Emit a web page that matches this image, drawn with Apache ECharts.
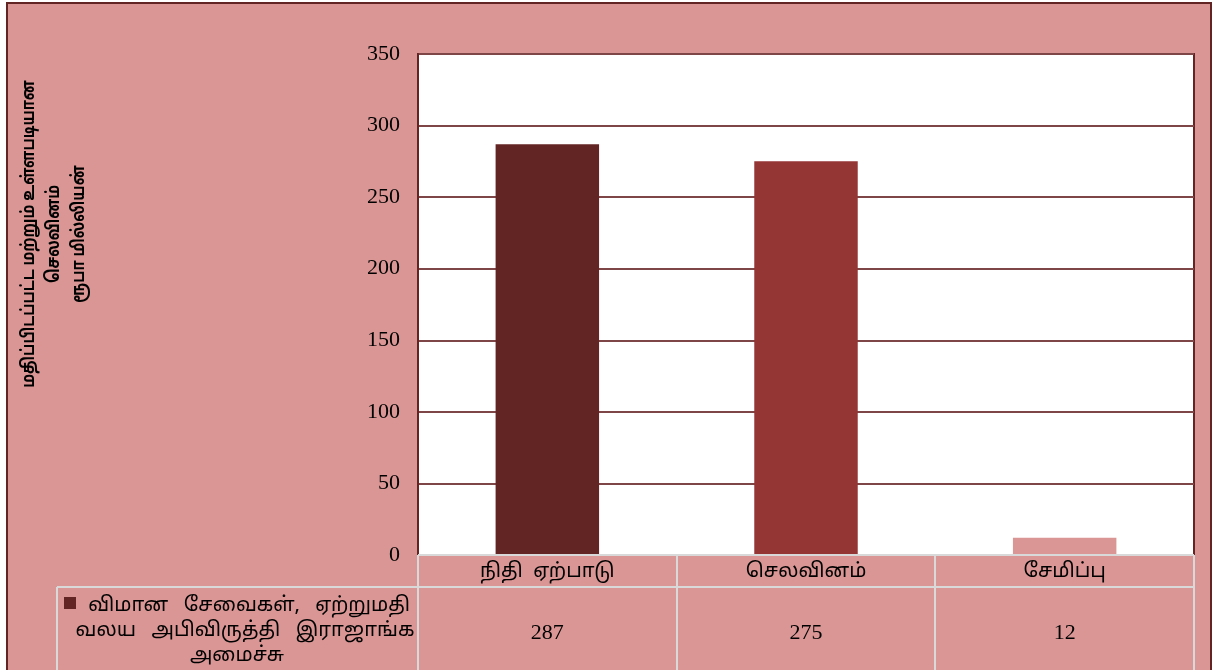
<!DOCTYPE html>
<html>
<head>
<meta charset="utf-8">
<script src="https://cdn.jsdelivr.net/npm/echarts@6/dist/echarts.min.js"></script>
<style>
  html, body { margin: 0; padding: 0; background: #fff; }
  #chart { width: 1214px; height: 670px; }
</style>
</head>
<body>
<div id="chart"></div>
<script>
// 数据
const categories = ['நிதி  ஏற்பாடு', 'செலவினம்', 'சேமிப்பு']
const values = [287, 275, 12]
const barColors = ['#632523', '#943634', '#D99694']
const seriesName = 'விமான சேவைகள், ஏற்றுமதி வலய அபிவிருத்தி இராஜாங்க அமைச்சு'
const legendLines = ['விமான   சேவைகள்,   ஏற்றுமதி', 'வலய   அபிவிருத்தி   இராஜாங்க', 'அமைச்சு']
const yTitleLines = ['மதிப்பிடப்பட்ட மற்றும் உள்ளபடியான', 'செலவினம்', 'ரூபா மில்லியன்']
const yTicks = { min: 0, max: 350, interval: 50 }

// 布局
const gridLeft = 418
const gridRight = 1194
const gridTop = 54
const gridBottom = 555
const rowLine = 587
const tableLeft = 57
const tableColor = '#D9D9D9'
const tamilFont = '"Noto Sans Tamil", "Noto Sans", sans-serif'
const serifFont = '"Liberation Serif", "DejaVu Serif", serif'

const chart = echarts.init(document.getElementById('chart'))

// 数据表格线
function tableLines() {
  const lines = []
  const line = (x1, y1, x2, y2) => lines.push({
    type: 'line', z: 50, silent: true,
    shape: { x1, y1, x2, y2 },
    style: { stroke: tableColor, lineWidth: 2 }
  })
  line(gridLeft, gridBottom, gridRight, gridBottom)
  line(tableLeft, rowLine, gridRight, rowLine)
  line(tableLeft, rowLine, tableLeft, 680)
  const step = (gridRight - gridLeft) / categories.length
  for (let i = 0; i <= categories.length; i++) {
    const x = Math.round(gridLeft + step * i)
    line(x, gridBottom, x, 680)
  }
  return lines
}

// 图例文字（三行）
const legendPos = [[249, 607], [245, 632], [237, 657]]
const legendTexts = legendLines.map((t, i) => ({
  type: 'text', z: 50, silent: true,
  x: legendPos[i][0], y: legendPos[i][1],
  style: {
    text: t,
    align: 'center',
    verticalAlign: 'middle',
    font: '20px ' + tamilFont,
    fill: '#000'
  }
}))

chart.setOption({
  backgroundColor: '#fff',
  animation: false,
  grid: {
    left: gridLeft,
    right: 1214 - gridRight,
    top: gridTop,
    bottom: 670 - gridBottom,
    show: true,
    backgroundColor: '#fff',
    borderColor: '#632523',
    borderWidth: 2
  },
  xAxis: [
    {
      type: 'category',
      data: categories,
      axisLine: { show: false },
      axisTick: { show: false },
      axisLabel: {
        margin: 8,
        color: '#000',
        fontSize: 20,
        fontFamily: tamilFont
      }
    },
    {
      type: 'category',
      position: 'bottom',
      data: values.map(v => String(v)),
      axisLine: { show: false },
      axisTick: { show: false },
      axisLabel: {
        margin: 67,
        color: '#000',
        fontSize: 22,
        fontFamily: serifFont
      }
    }
  ],
  yAxis: {
    type: 'value',
    min: yTicks.min,
    max: yTicks.max,
    interval: yTicks.interval,
    axisLine: { show: true, lineStyle: { color: '#632523', width: 2 } },
    axisTick: { show: false },
    axisLabel: {
      margin: 18,
      color: '#000',
      fontSize: 22,
      fontFamily: serifFont
    },
    splitLine: { lineStyle: { color: '#7E4646', width: 2 } }
  },
  series: [
    {
      name: seriesName,
      type: 'bar',
      barWidth: '40%',
      data: values.map((v, i) => ({ value: v, itemStyle: { color: barColors[i] } }))
    }
  ],
  graphic: [
    {
      type: 'rect', z: -10, silent: true,
      shape: { x: 7, y: 3, width: 1204, height: 700 },
      style: { fill: '#D99694', stroke: '#632523', lineWidth: 2 }
    },
    ...tableLines(),
    // 图例方块
    {
      type: 'rect', z: 50, silent: true,
      shape: { x: 64, y: 597, width: 12, height: 12 },
      style: { fill: barColors[0] }
    },
    ...legendTexts,
    // Y轴标题
    {
      type: 'text', z: 50, silent: true,
      x: 55, y: 234,
      rotation: Math.PI / 2,
      scaleX: 0.82,
      style: {
        text: yTitleLines.join('\n'),
        align: 'center',
        verticalAlign: 'middle',
        lineHeight: 25,
        font: 'bold 18px ' + tamilFont,
        fill: '#000'
      }
    }
  ]
})
</script>
</body>
</html>
